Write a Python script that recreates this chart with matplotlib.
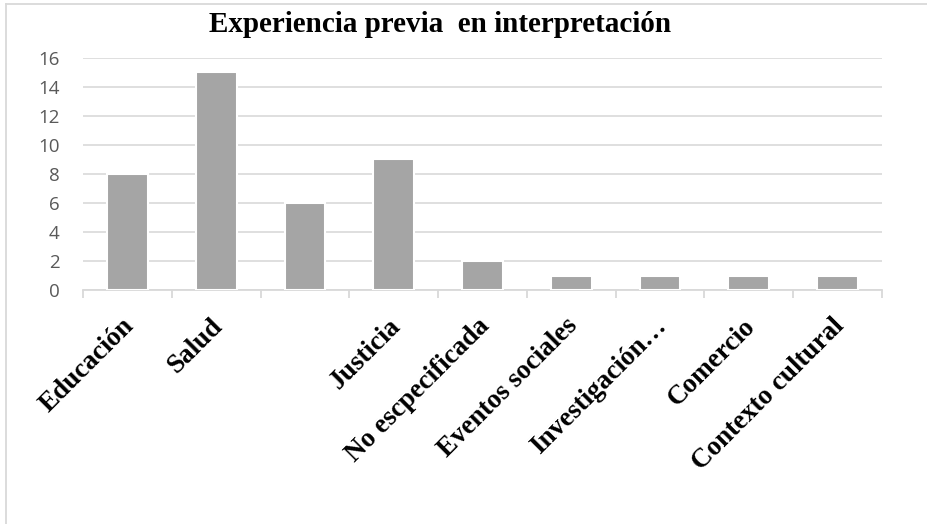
import matplotlib
matplotlib.use("Agg")
import matplotlib.pyplot as plt
from matplotlib.lines import Line2D
from matplotlib.transforms import ScaledTranslation

categories = ["Educación", "Salud", "", "Justicia", "No escpecificada",
              "Eventos sociales", "Investigación…", "Comercio", "Contexto cultural"]
values = [8, 15, 6, 9, 2, 1, 1, 1, 1]
yticks = [0, 2, 4, 6, 8, 10, 12, 14, 16]
title = "Experiencia previa  en interpretación"

fig = plt.figure(figsize=(9.27, 5.24), dpi=100)
# chart-area border (left and top edges visible)
fig.add_artist(Line2D([5.5/927, 5.5/927], [0, 1 - 3.5/524], transform=fig.transFigure,
                      color="#d9d9d9", linewidth=1.3))
fig.add_artist(Line2D([5.5/927, 1], [1 - 3.5/524, 1 - 3.5/524], transform=fig.transFigure,
                      color="#d9d9d9", linewidth=1.3))

ax = fig.add_axes([83/927, 1 - 290/524, (882 - 83)/927, (290 - 58)/524])

x = list(range(len(categories)))
ax.bar(x, values, width=0.46, color="#a5a5a5", edgecolor="white", linewidth=1.5, zorder=3)
ax.set_xlim(-0.5, len(categories) - 0.5)
ax.set_ylim(0, 16)
ax.set_yticks(yticks)
ax.set_yticklabels([str(v) for v in yticks], fontsize=13.5, color="#595959", family="Open Sans")
ax.tick_params(axis="y", length=0, pad=17)
ax.grid(axis="y", color="#d9d9d9", linewidth=1.2, zorder=0)
ax.set_axisbelow(True)
for s in ["top", "right", "left"]:
    ax.spines[s].set_visible(False)
ax.spines["bottom"].set_color("#d9d9d9")
ax.spines["bottom"].set_linewidth(1.3)

# category boundary ticks
ax.set_xticks([i - 0.5 for i in range(len(categories) + 1)], minor=False)
ax.set_xticklabels([])
ax.tick_params(axis="x", length=6, color="#d9d9d9", width=1.3)
ax.set_xticks(x, minor=True)
ax.set_xticklabels(categories, minor=True, rotation=45, ha="right", rotation_mode="anchor",
                   fontsize=19.5, fontweight="bold", family="Liberation Serif")
ax.tick_params(axis="x", which="minor", length=0, pad=17)
shift = ScaledTranslation(-6/100, 0, fig.dpi_scale_trans)
for lab in ax.get_xticklabels(minor=True):
    lab.set_transform(lab.get_transform() + shift)

fig.text(440/927, 1 - 24/524, title, ha="center", va="center", fontsize=21,
         fontweight="bold", family="Liberation Serif")

fig.savefig("out.png", dpi=100)
